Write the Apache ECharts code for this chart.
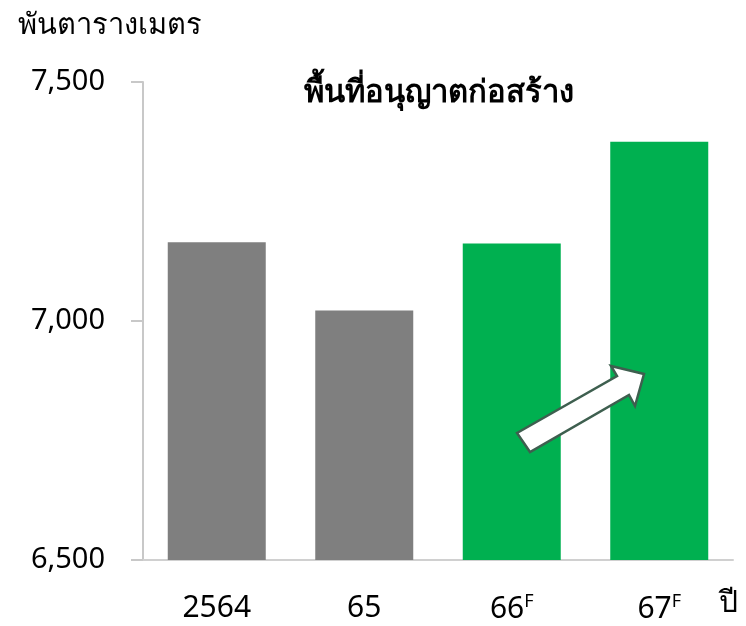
<!DOCTYPE html>
<html>
<head>
<meta charset="utf-8">
<script src="https://cdn.jsdelivr.net/npm/echarts@6/dist/echarts.min.js"></script>
<style>html,body{margin:0;padding:0;background:#fff;}#c{width:746px;height:626px;}</style>
</head>
<body>
<div id="c"></div>
<script>
const categories = ['2564', '65', '66', '67'];
const forecastFlags = [false, false, true, true];
const values = [7165, 7022, 7162, 7375];
const yTicks = [6500, 7000, 7500];
const titleText = 'พื้นที่อนุญาตก่อสร้าง';
const unitText = 'พันตารางเมตร';
const xUnitText = 'ปี';

const FONT = '"Noto Sans", "DejaVu Sans", sans-serif';
const chart = echarts.init(document.getElementById('c'), null, {renderer: 'canvas'});
const option = {
  animation: false,
  backgroundColor: '#fff',
  grid: {left: 143, right: 13, top: 82, bottom: 66, containLabel: false},
  title: {
    text: titleText, left: 299, top: 73,
    textStyle: {fontFamily: FONT, fontSize: 31, fontWeight: 'bold', color: '#000'}
  },
  xAxis: {
    type: 'category',
    data: categories,
    axisLine: {show: true, lineStyle: {color: '#d0d0d0', width: 2}},
    axisTick: {show: false},
    axisLabel: {
      margin: 33,
      formatter: function (v, i) {
        return forecastFlags[i] ? '{a|' + v + '}{s|F}' : '{a|' + v + '}';
      },
      rich: {
        a: {fontFamily: FONT, fontSize: 30, color: '#000'},
        s: {fontFamily: FONT, fontSize: 18, color: '#000', padding: [0, 0, 14, 0]}
      }
    }
  },
  yAxis: {
    type: 'value',
    min: yTicks[0], max: yTicks[yTicks.length - 1], interval: 500,
    splitLine: {show: false},
    axisLine: {show: true, lineStyle: {color: '#c8c8c8', width: 2}},
    axisTick: {show: true, inside: false, length: 12, lineStyle: {color: '#c8c8c8', width: 2}},
    axisLabel: {
      margin: 38,
      fontFamily: FONT, fontSize: 29, color: '#000',
      formatter: function (v) { return v.toLocaleString('en-US'); }
    }
  },
  series: [{
    type: 'bar',
    barWidth: 98,
    data: values.map(function (v, i) {
      return {value: v, itemStyle: {color: forecastFlags[i] ? '#00b050' : '#7f7f7f'}};
    })
  }],
  graphic: [
    {type: 'text', left: 18, top: 11, style: {text: unitText, font: '29px ' + FONT, fill: '#000'}},
    {type: 'text', left: 719, top: 588, style: {text: xUnitText, font: '30px ' + FONT, fill: '#000'}},
    {type: 'polygon', shape: {points: [[517,433],[617,376],[611,366],[644,374],[635,406],[629,395],[530,452]]},
     style: {fill: '#fff', stroke: '#3e5f4f', lineWidth: 2.5}, z: 100}
  ]
};
chart.setOption(option);
</script>
</body>
</html>
